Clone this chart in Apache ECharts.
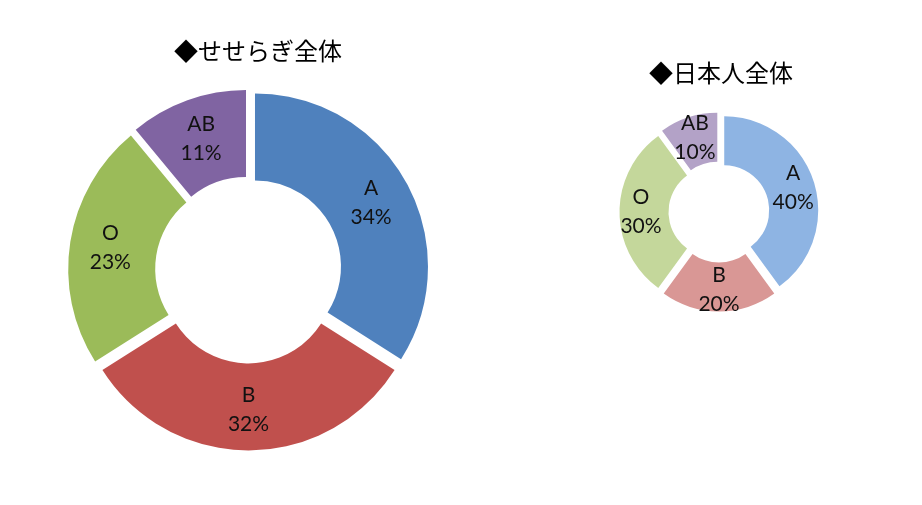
<!DOCTYPE html>
<html>
<head>
<meta charset="utf-8">
<script src="https://cdn.jsdelivr.net/npm/echarts@6/dist/echarts.min.js"></script>
<style>
  html, body { margin: 0; padding: 0; background: #fff; }
  #main { width: 922px; height: 505px; }
</style>
</head>
<body>
<div id="main"></div>
<script>
// 血液型
var types = ['A', 'B', 'O', 'AB'];

// ◆せせらぎ全体
var seseragiValues = [34, 32, 23, 11];
var seseragiColors = ['#4F81BD', '#C0504D', '#9BBB59', '#8064A2'];

// ◆日本人全体
var japanValues = [40, 20, 30, 10];
var japanColors = ['#8EB4E3', '#D99795', '#C4D79B', '#B3A2C7'];

var titles = ['◆せせらぎ全体', '◆日本人全体'];

function buildData(values, colors) {
  var list = [];
  for (var i = 0; i < types.length; i++) {
    list.push({
      name: types[i],
      value: values[i],
      selected: true,
      itemStyle: { color: colors[i] },
      select: { itemStyle: { color: colors[i] } }
    });
  }
  return list;
}

function donut(center, radius, offset, values, colors) {
  return {
    type: 'pie',
    center: center,
    radius: radius,
    startAngle: 90,
    clockwise: true,
    selectedMode: 'multiple',
    selectedOffset: offset,
    avoidLabelOverlap: false,
    silent: true,
    label: {
      show: true,
      position: 'inside',
      formatter: '{b}\n{d}%',
      color: '#111',
      fontFamily: 'Lato',
      fontSize: 21,
      lineHeight: 29
    },
    labelLine: { show: false },
    data: buildData(values, colors)
  };
}

var option = {
  animation: false,
  backgroundColor: '#fff',
  title: [{
    text: titles[0],
    left: 258,
    top: 39,
    textAlign: 'center',
    padding: 0,
    textStyle: { fontFamily: 'Noto Sans CJK JP', fontWeight: 'normal', fontSize: 24, color: '#000' }
  }, {
    text: titles[1],
    left: 721,
    top: 61,
    textAlign: 'center',
    padding: 0,
    textStyle: { fontFamily: 'Noto Sans CJK JP', fontWeight: 'normal', fontSize: 24, color: '#000' }
  }],
  series: [
    donut([248.5, 270], [86, 173], 7.4, seseragiValues, seseragiColors),
    donut([719, 212], [45, 94], 5.5, japanValues, japanColors)
  ]
};

var myChart = echarts.init(document.getElementById('main'));
myChart.setOption(option);
</script>
</body>
</html>
